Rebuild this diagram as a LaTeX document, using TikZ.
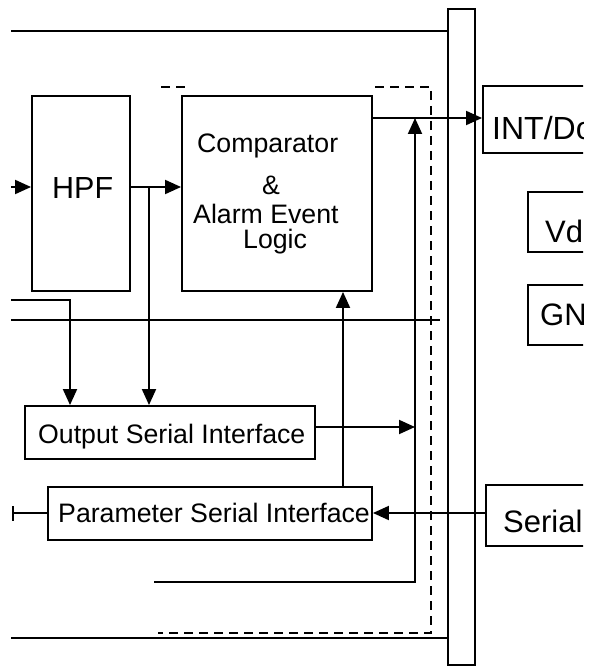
\documentclass[tikz,border=0pt]{standalone}
\usepackage{fontspec}
\setmainfont{Liberation Sans}
\usetikzlibrary{arrows.meta}
\tikzset{%
  blk/.style={draw,line width=1.9pt,inner sep=0pt},%
  wire/.style={line width=1.9pt},%
  sig/.style={wire,-{Triangle[length=16pt,width=14pt]}},%
  txt/.style={inner sep=0pt,anchor=base west,font=\fontsize{26.7}{30}\selectfont},%
  bigtxt/.style={txt,font=\fontsize{31}{34}\selectfont},%
  frame/.style={line width=1.9pt,dash pattern=on 9pt off 6pt},%
}
\begin{document}
\begin{tikzpicture}[x=1pt,y=-1pt]
      \useasboundingbox (0,0) rectangle (598,668);%

      \node[blk,minimum width=27pt,minimum height=656pt] (bar) at (461.5,337) {};%

      \node[blk,minimum width=98pt,minimum height=195pt] (hpf) at (81,193.5) {};%
      \node[blk,minimum width=190pt,minimum height=195pt] (comp) at (277,193.5) {};%
      \node[blk,minimum width=290pt,minimum height=53pt] (osi) at (170,432.5) {};%
      \node[blk,minimum width=324pt,minimum height=53pt] (psi) at (210,513.5) {};%

      \begin{scope}
      \clip (0,0) rectangle (583,668);%
      \node[blk,minimum width=157pt,minimum height=67pt] (intd) at (561.5,119.5) {};%
      \node[blk,minimum width=112pt,minimum height=60pt] (vdd) at (584,222) {};%
      \node[blk,minimum width=112pt,minimum height=60pt] (gnd) at (584,315) {};%
      \node[blk,minimum width=154pt,minimum height=61pt] (serl) at (563,515.5) {};%
      \node[bigtxt,font=\fontsize{32}{35}\selectfont] (intt) at (492,140) {INT/Do};%
      \node[bigtxt] (vddt) at (545,242) {Vd};%
      \node[bigtxt] (gndt) at (540,325) {GN};%
      \node[bigtxt] (sert) at (503,532) {Serial};%
      \end{scope}

      \node[bigtxt,font=\fontsize{30.5}{34}\selectfont] (hpft) at (52,198) {HPF};%
      \node[txt] (cmpa) at (197,153) {Comparator};%
      \node[txt] (cmpb) at (262,195) {\&};%
      \node[txt] (cmpc) at (193,223) {Alarm Event};%
      \node[txt] (cmpd) at (243,248) {Logic};%
      \node[txt] (osit) at (38,443) {Output Serial Interface};%
      \node[txt] (psit) at (58,522) {Parameter Serial Interface};%

      \coordinate (topl) at (11,31);%
      \coordinate (botl) at (11,638);%
      \coordinate (inh) at (11,187);%
      \coordinate (brh) at (149,187);%
      \coordinate (ina) at (11,300);%
      \coordinate (inak) at (70,300);%
      \coordinate (inb) at (11,320);%
      \coordinate (inbe) at (440,320);%
      \coordinate (fbx) at (343,400);%
      \coordinate (outy) at (0,118);%
      \coordinate (lps) at (154,582);%
      \coordinate (lpc) at (415,582);%
      \coordinate (osy) at (0,427);%
      \coordinate (psy) at (0,513);%
      \coordinate (pin) at (12,513);%

      \draw[wire] (topl) -- (topl -| bar.west);%
      \draw[wire] (botl) -- (botl -| bar.west);%
      \draw[sig] (inh) -- (inh -| hpf.west);%
      \draw[sig] (hpf.east |- inh) -- (comp.west |- inh);%
      \draw[sig] (brh) -- (brh |- osi.north);%
      \draw[sig] (ina) -- (inak) -- (inak |- osi.north);%
      \draw[wire] (inb) -- (inbe);%
      \draw[sig] (psi.north -| fbx) -- (comp.south -| fbx);%
      \draw[sig] (comp.east |- outy) -- (intd.west |- outy);%
      \draw[sig] (lps) -- (lpc) -- (lpc |- outy);%
      \draw[sig] (osi.east |- osy) -- (lpc |- osy);%
      \draw[sig] (serl.west |- psy) -- (psi.east |- psy);%
      \draw[wire,{Bar[width=15pt]}-] (pin) -- (pin -| psi.west);%

      \draw[frame] (161,87) -- (185,87);%
      \draw[frame] (375,87) -- (431,87) -- (431,633) -- (158,633);%
    \end{tikzpicture}
\end{document}
